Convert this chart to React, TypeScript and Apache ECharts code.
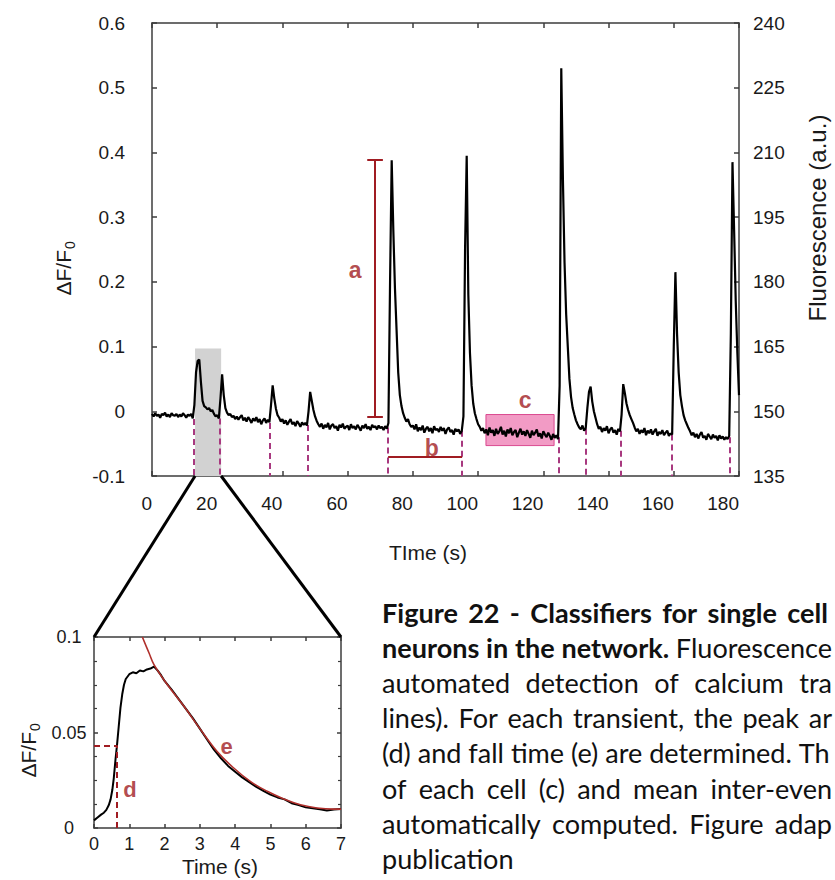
import React, { useEffect, useRef } from 'react';
import * as echarts from 'echarts';

// ---------- DATA ----------
// Main recording: [time (s), ΔF/F0 × 1000]
const mainTrace: number[][] = [
  [0,-4],[0.5,-8],[1,-3],[1.5,-7],[2,-5],[2.5,-10],[3,-4],[3.5,-6],[4,-2],[4.5,-8],[5,-5],[5.5,-9],[6,-3],[6.5,-6],[7,-7],[7.5,-4],[8,-9],[8.5,-5],[9,-8],[9.5,-3],[10,-6],[10.5,-10],[11,-5],[11.5,-7],[12,-4],[12.5,-11],
  [13,10],[13.5,60],[14,78],[14.5,80],[15,45],[15.5,16],[16,8],[16.5,6],[17,3],[17.5,5],[18,0],[18.5,2],[19,-4],[19.5,-8],[20,-6],[20.5,-11],
  [21,20],[21.5,57],[22,25],[22.5,5],[23,-2],[23.5,-6],[24,-4],[24.5,-9],[25,-7],
  [25.5,-12],[26,-8],[26.5,-13],[27,-9],[27.5,-6],[28,-14],[28.5,-10],[29,-16],[29.5,-9],[30,-13],[30.5,-18],[31,-11],[31.5,-15],[32,-9],[32.5,-17],[33,-12],[33.5,-20],[34,-14],[34.5,-11],[35,-18],[35.5,-13],[36,-17],
  [36.5,10],[37,40],[37.5,20],[38,4],[38.5,-6],[39,-10],[39.5,-16],[40,-12],
  [40.5,-19],[41,-14],[41.5,-21],[42,-16],[42.5,-12],[43,-20],[43.5,-17],[44,-23],[44.5,-15],[45,-19],[45.5,-24],[46,-17],[46.5,-21],[47,-18],[47.5,-22],
  [48,0],[48.5,30],[49,16],[49.5,2],[50,-8],[50.5,-15],[51,-20],
  [51.5,-24],[52,-19],[52.5,-27],[53,-21],[53.5,-25],[54,-18],[54.5,-28],[55,-22],[55.5,-20],[56,-26],[56.5,-23],[57,-30],[57.5,-21],[58,-25],[58.5,-19],[59,-27],[59.5,-24],[60,-22],[60.5,-29],[61,-20],[61.5,-26],[62,-23],[62.5,-28],[63,-21],[63.5,-25],[64,-30],[64.5,-22],[65,-26],[65.5,-20],[66,-27],[66.5,-24],[67,-29],[67.5,-21],[68,-25],[68.5,-23],[69,-28],[69.5,-22],[70,-26],[70.5,-24],[71,-29],[71.5,-23],[72,-27],
  [72.5,-18],[73,200],[73.5,388],[74,280],[74.5,190],[75,125],[75.5,60],[76,25],[76.5,8],[77,-3],[77.5,-10],[78,-16],[78.5,-12],[79,-20],[79.5,-24],
  [80,-22],[80.5,-28],[81,-20],[81.5,-31],[82,-25],[82.5,-29],[83,-22],[83.5,-33],[84,-27],[84.5,-24],[85,-31],[85.5,-26],[86,-34],[86.5,-23],[87,-29],[87.5,-27],[88,-32],[88.5,-24],[89,-30],[89.5,-26],[90,-35],[90.5,-28],[91,-25],[91.5,-32],[92,-29],[92.5,-36],[93,-27],[93.5,-31],[94,-28],[94.5,-35],[95,-30],
  [95.5,-8],[96,250],[96.5,395],[97,180],[97.5,90],[98,40],[98.5,12],[99,-3],[99.5,-12],[100,-20],
  [100.5,-24],[101,-30],[101.5,-26],[102,-34],[102.5,-28],[103,-37],[103.5,-25],[104,-33],[104.5,-29],[105,-38],[105.5,-27],[106,-35],[106.5,-31],[107,-24],[107.5,-36],[108,-30],[108.5,-39],[109,-28],[109.5,-34],[110,-26],[110.5,-37],[111,-32],[111.5,-29],[112,-40],[112.5,-33],[113,-27],[113.5,-36],[114,-31],[114.5,-38],[115,-29],[115.5,-35],[116,-41],[116.5,-30],[117,-37],[117.5,-33],[118,-28],[118.5,-39],[119,-34],[119.5,-42],[120,-31],[120.5,-36],[121,-40],[121.5,-33],[122,-38],[122.5,-44],[123,-35],[123.5,-41],[124,-37],[124.5,-43],
  [125,40],[125.5,530],[126,360],[126.5,230],[127,150],[127.5,100],[128,50],[128.5,22],[129,5],[129.5,-5],[130,-14],
  [130.5,-20],[131,-25],[131.5,-28],[132,-22],[132.5,-30],[133,-26],
  [133.5,5],[134,30],[134.5,38],[135,15],[135.5,0],[136,-10],
  [136.5,-20],[137,-27],[137.5,-24],[138,-32],[138.5,-26],[139,-30],[139.5,-23],[140,-34],[140.5,-28],[141,-25],[141.5,-33],[142,-29],[142.5,-36],[143,-27],[143.5,-31],
  [144,-5],[144.5,42],[145,28],[145.5,12],[146,2],[146.5,-6],[147,-12],[147.5,-18],
  [148,-25],[148.5,-31],[149,-27],[149.5,-35],[150,-29],[150.5,-33],[151,-26],[151.5,-37],[152,-30],[152.5,-34],[153,-28],[153.5,-36],[154,-31],[154.5,-27],[155,-38],[155.5,-32],[156,-35],[156.5,-29],[157,-37],[157.5,-33],[158,-30],[158.5,-38],[159,-34],[159.5,-36],
  [160,100],[160.5,215],[161,120],[161.5,60],[162,25],[162.5,8],[163,-6],[163.5,-14],[164,-20],[164.5,-26],
  [165,-31],[165.5,-37],[166,-33],[166.5,-40],[167,-35],[167.5,-42],[168,-36],[168.5,-32],[169,-41],[169.5,-38],[170,-44],[170.5,-35],[171,-39],[171.5,-43],[172,-36],[172.5,-41],[173,-38],[173.5,-45],[174,-37],[174.5,-42],[175,-39],[175.5,-44],[176,-40],[176.5,-43],[177,-38],
  [177.5,120],[178,385],[178.5,280],[179,170],[179.5,90],[180,25],
];

// Detected transient onsets (s) and the trace level at each onset (ΔF/F0)
const onsetTimes = [12.7, 20.9, 36.2, 47.8, 72.4, 95.1, 124.8, 133.1, 143.8, 159.5, 177.2];
const onsetLevels = [-0.012, -0.011, -0.018, -0.021, -0.025, -0.030, -0.040, -0.027, -0.030, -0.036, -0.040];

// Highlighted windows
const zoomWindowTime = [13.2, 21.2];
const zoomWindowLevel = [-0.1, 0.097];
const noiseWindowTime = [102.4, 123.3];
const noiseWindowLevel = [-0.053, -0.005];

// Classifier annotations
const amplitudeTime = 68.4;
const amplitudeRange = [-0.009, 0.388];
const amplitudeCapHalf = 2.4;
const intervalRange = [72.4, 95.1];
const intervalLevel = -0.071;
const mainLabelNames = ['a', 'b', 'c'];
const mainLabelTimes = [62.3, 85.8, 114.4];
const mainLabelLevels = [0.218, -0.057, 0.017];

// Inset: single transient, [time (s), ΔF/F0 × 1000]
const insetTrace: number[][] = [
  [0,4],[0.1,5.5],[0.2,7],[0.28,8],[0.35,9.5],[0.42,12],[0.47,15],[0.52,20],[0.56,26],[0.61,36],[0.65,43],[0.7,53],[0.75,63],[0.8,70],[0.85,75],[0.9,78],
  [1.0,80.5],[1.1,81.5],[1.2,81],[1.3,82.5],[1.4,82],[1.5,83],[1.6,83.5],[1.7,84.5],[1.8,82.5],[1.9,80],[2.0,77],[2.2,72.5],[2.4,67.5],[2.6,62.5],[2.8,57.5],
  [3.0,52],[3.2,46.5],[3.4,41],[3.6,36.5],[3.8,32.5],[4.0,29.5],[4.2,26.5],[4.4,24],[4.6,21.5],[4.8,19.5],[5.0,17.5],[5.2,16],[5.4,15],[5.6,13],[5.8,12],
  [6.0,10.8],[6.2,10.3],[6.4,9.8],[6.6,9.2],[6.8,9.7],[7.0,9.9],
];
// Inset: fitted decay (e), [time (s), ΔF/F0 × 1000]
const insetFit: number[][] = [
  [1.37,100],[1.56,91.6],[1.7,85.5],[2.08,75],[2.55,63.7],[3.02,51.5],[3.49,40],[3.96,31.4],[4.43,24.4],[4.91,19.2],[5.38,15.2],[5.85,12.2],[6.32,10.5],[6.79,9.9],[7,9.9],
];
const riseTime = 0.64;
const riseLevel = 0.0433;
const insetLabelNames = ['d', 'e'];
const insetLabelTimes = [1.02, 3.76];
const insetLabelLevels = [0.020, 0.0426];

// Axes
const mainTimeRange = [0, 180, 20];
const mainDFRange = [-0.1, 0.6, 0.1];
const mainFluoRange = [135, 240, 15];
const insetTimeRange = [0, 7, 1];
const insetDFRange = [0, 0.1, 0.05];

// Caption
const captionLines = [
  [{ text: 'Figure 22 - Classifiers for single cell', bold: true }],
  [{ text: 'neurons in the network.', bold: true }, { text: 'Fluorescence', bold: false }],
  [{ text: 'automated detection of calcium tra', bold: false }],
  [{ text: 'lines). For each transient, the peak ar', bold: false }],
  [{ text: '(d) and fall time (e) are determined. Th', bold: false }],
  [{ text: 'of each cell (c) and mean inter-even', bold: false }],
  [{ text: 'automatically computed. Figure adap', bold: false }],
  [{ text: 'publication', bold: false }],
];

// ---------- CHART ----------
const RED = '#a01c22';
const ONSET = '#a8387f';
const AX = '#3c3c3c';
const FONT = '"Liberation Sans", Arial, sans-serif';
const CAPFONT = 'Lato, "Open Sans", sans-serif';

function frame(extra: any) {
  return {
    type: 'value',
    axisLine: { show: true, onZero: false, lineStyle: { color: AX, width: 1.5 } },
    axisTick: { show: true, inside: true, length: 5, lineStyle: { color: AX, width: 1.5 } },
    splitLine: { show: false },
    ...extra,
  };
}

export default function App() {
  const ref = useRef<HTMLDivElement>(null);
  useEffect(() => {
    const el = ref.current;
    if (!el) return;
    const chart = echarts.init(el, undefined, { renderer: 'svg' });
    const tickLabel = { fontSize: 19, fontFamily: FONT, color: '#1a1a1a' };
    const insetLabel = { fontSize: 18, fontFamily: FONT, color: '#1a1a1a' };

    const onsetLines = onsetTimes.map((t, i) => ({ coords: [[t, onsetLevels[i]], [t, mainDFRange[0]]] }));
    const amp = [
      { coords: [[amplitudeTime, amplitudeRange[0]], [amplitudeTime, amplitudeRange[1]]] },
      { coords: [[amplitudeTime - amplitudeCapHalf, amplitudeRange[0]], [amplitudeTime + amplitudeCapHalf, amplitudeRange[0]]] },
      { coords: [[amplitudeTime - amplitudeCapHalf, amplitudeRange[1]], [amplitudeTime + amplitudeCapHalf, amplitudeRange[1]]] },
      { coords: [[intervalRange[0], intervalLevel], [intervalRange[1], intervalLevel]] },
    ];

    const option: any = {
      animation: false,
      backgroundColor: '#ffffff',
      grid: [
        { left: 152, top: 23, width: 587, height: 453 },
        { left: 94, top: 637, width: 247, height: 191 },
      ],
      xAxis: [
        frame({ gridIndex: 0, position: 'bottom', min: mainTimeRange[0], max: mainTimeRange[1], interval: mainTimeRange[2],
          axisLabel: { ...tickLabel, margin: 18, align: 'right' } }),
        frame({ gridIndex: 0, position: 'top', min: mainTimeRange[0], max: mainTimeRange[1], interval: mainTimeRange[2], axisLabel: { show: false } }),
        frame({ gridIndex: 1, position: 'bottom', min: insetTimeRange[0], max: insetTimeRange[1], interval: insetTimeRange[2],
          axisTick: { show: true, inside: true, length: 4, lineStyle: { color: AX, width: 1.5 } },
          axisLabel: { ...insetLabel, margin: 7 } }),
        frame({ gridIndex: 1, position: 'top', min: insetTimeRange[0], max: insetTimeRange[1], interval: insetTimeRange[2],
          axisTick: { show: true, inside: true, length: 4, lineStyle: { color: AX, width: 1.5 } }, axisLabel: { show: false } }),
      ],
      yAxis: [
        frame({ gridIndex: 0, position: 'left', min: mainDFRange[0], max: mainDFRange[1], interval: mainDFRange[2],
          axisLabel: { ...tickLabel, margin: 27, formatter: (v: number) => String(Math.round(v * 10) / 10 || 0) } }),
        frame({ gridIndex: 0, position: 'right', min: mainFluoRange[0], max: mainFluoRange[1], interval: mainFluoRange[2],
          axisLabel: { ...tickLabel, margin: 14 } }),
        frame({ gridIndex: 1, position: 'left', min: insetDFRange[0], max: insetDFRange[1], interval: insetDFRange[2],
          axisTick: { show: true, inside: true, length: 4, lineStyle: { color: AX, width: 1.5 } },
          minorTick: { show: true, splitNumber: 4, length: 3, lineStyle: { color: AX, width: 1.2 } },
          axisLabel: { ...insetLabel, margin: 25, align: 'center', formatter: (v: number) => String(Math.round(v * 100) / 100) } }),
        frame({ gridIndex: 1, position: 'right', min: insetDFRange[0], max: insetDFRange[1], interval: insetDFRange[2],
          axisTick: { show: true, inside: true, length: 4, lineStyle: { color: AX, width: 1.5 } },
          minorTick: { show: true, splitNumber: 4, length: 3, lineStyle: { color: AX, width: 1.2 } },
          axisLabel: { show: false } }),
      ],
      series: [
        {
          type: 'line', xAxisIndex: 0, yAxisIndex: 0, z: 1, silent: true, symbol: 'none',
          data: [[zoomWindowTime[0], zoomWindowLevel[0]]], lineStyle: { opacity: 0 },
          markArea: { silent: true, itemStyle: { color: '#d2d2d2' },
            data: [[{ coord: [zoomWindowTime[0], zoomWindowLevel[0]] }, { coord: [zoomWindowTime[1], zoomWindowLevel[1]] }]] },
        },
        {
          type: 'lines', coordinateSystem: 'cartesian2d', xAxisIndex: 0, yAxisIndex: 0, z: 2, silent: true,
          data: onsetLines, lineStyle: { color: ONSET, width: 2, type: [6, 4], opacity: 1 },
        },
        {
          type: 'line', xAxisIndex: 0, yAxisIndex: 0, z: 3, symbol: 'none', silent: true,
          data: mainTrace.map(([t, v]) => [t, v / 1000]),
          lineStyle: { color: '#000', width: 2.2 },
        },
        {
          type: 'line', xAxisIndex: 0, yAxisIndex: 0, z: 4, silent: true, symbol: 'none',
          data: [[noiseWindowTime[0], noiseWindowLevel[0]]], lineStyle: { opacity: 0 },
          markArea: { silent: true, itemStyle: { color: 'rgba(232,72,150,0.55)', borderColor: 'rgba(215,60,135,0.9)', borderWidth: 1 },
            data: [[{ coord: [noiseWindowTime[0], noiseWindowLevel[0]] }, { coord: [noiseWindowTime[1], noiseWindowLevel[1]] }]] },
        },
        {
          type: 'lines', coordinateSystem: 'cartesian2d', xAxisIndex: 0, yAxisIndex: 0, z: 5, silent: true,
          data: amp, lineStyle: { color: RED, width: 2, opacity: 1 },
        },
        {
          type: 'scatter', xAxisIndex: 0, yAxisIndex: 0, z: 6, silent: true, symbolSize: 1,
          itemStyle: { color: 'rgba(0,0,0,0)' },
          data: mainLabelNames.map((n, i) => ({ name: n, value: [mainLabelTimes[i], mainLabelLevels[i]] })),
          label: { show: true, position: 'inside', formatter: '{b}', color: RED, fontSize: 23, fontWeight: 'bold', fontFamily: FONT },
        },
        {
          type: 'line', xAxisIndex: 2, yAxisIndex: 2, z: 3, symbol: 'none', silent: true,
          data: insetTrace.map(([t, v]) => [t, v / 1000]),
          lineStyle: { color: '#000', width: 2 },
        },
        {
          type: 'line', xAxisIndex: 2, yAxisIndex: 2, z: 4, symbol: 'none', silent: true, smooth: 0.4,
          data: insetFit.map(([t, v]) => [t, v / 1000]),
          lineStyle: { color: '#b0302c', width: 1.6 },
        },
        {
          type: 'lines', coordinateSystem: 'cartesian2d', xAxisIndex: 2, yAxisIndex: 2, z: 5, silent: true,
          data: [
            { coords: [[insetTimeRange[0], riseLevel], [riseTime, riseLevel]] },
            { coords: [[riseTime, insetDFRange[0]], [riseTime, riseLevel]] },
          ],
          lineStyle: { color: RED, width: 2, type: [6, 4], opacity: 1 },
        },
        {
          type: 'scatter', xAxisIndex: 2, yAxisIndex: 2, z: 6, silent: true, symbolSize: 1,
          itemStyle: { color: 'rgba(0,0,0,0)' },
          data: insetLabelNames.map((n, i) => ({ name: n, value: [insetLabelTimes[i], insetLabelLevels[i]] })),
          label: { show: true, position: 'inside', formatter: '{b}', color: RED, fontSize: 22, fontWeight: 'bold', fontFamily: FONT },
        },
      ],
    };
    chart.setOption(option);

    // connecting lines from the grey window to the inset corners
    const px = (g: number, p: number[]) => chart.convertToPixel({ gridIndex: g } as any, p) as number[];
    const a1 = px(0, [zoomWindowTime[0], zoomWindowLevel[0]]);
    const a2 = px(0, [zoomWindowTime[1], zoomWindowLevel[0]]);
    const b1 = px(1, [insetTimeRange[0], insetDFRange[1]]);
    const b2 = px(1, [insetTimeRange[1], insetDFRange[1]]);

    const graphics: any[] = [
      { type: 'line', z: 10, shape: { x1: a1[0], y1: a1[1], x2: b1[0], y2: b1[1] }, style: { stroke: '#000', lineWidth: 3 } },
      { type: 'line', z: 10, shape: { x1: a2[0], y1: a2[1], x2: b2[0], y2: b2[1] }, style: { stroke: '#000', lineWidth: 3 } },
      { type: 'text', x: 428, y: 552, style: { text: 'TIme (s)', fontSize: 21, fontFamily: FONT, fill: '#1a1a1a', align: 'center', verticalAlign: 'middle' } },
      { type: 'text', x: 220, y: 866, style: { text: 'Time (s)', fontSize: 21, fontFamily: FONT, fill: '#1a1a1a', align: 'center', verticalAlign: 'middle' } },
      { type: 'text', x: 817, y: 218, rotation: Math.PI / 2, style: { text: 'Fluorescence (a.u.)', fontSize: 24, fontFamily: FONT, fill: '#1a1a1a', align: 'center', verticalAlign: 'middle' } },
    ];
    const dfLabel = (x: number, y: number) => ({
      type: 'group', x, y, rotation: Math.PI / 2,
      children: [
        { type: 'text', x: 0, y: 0, style: { text: 'ΔF/F', fontSize: 21, fontFamily: FONT, fill: '#1a1a1a', align: 'right', verticalAlign: 'middle' } },
        { type: 'text', x: 1, y: 7, style: { text: '0', fontSize: 14, fontFamily: FONT, fill: '#1a1a1a', align: 'left', verticalAlign: 'middle' } },
      ],
    });
    graphics.push(dfLabel(63, 250));
    graphics.push(dfLabel(28, 732));

    // caption, justified like the source
    const ctx = document.createElement('canvas').getContext('2d') as CanvasRenderingContext2D;
    const measure = (t: string, bold: boolean, size: number) => {
      ctx.font = `${bold ? 'bold ' : ''}${size}px Lato`;
      return ctx.measureText(t).width;
    };
    const ref5 = captionLines[4][0].text;
    let size = (100 * 448) / measure(ref5, false, 100);
    if (!isFinite(size) || size < 16 || size > 32) size = 25;
    const left = 382;
    const rights = [828, 832, 832, 832, null, 832, 832, null];
    captionLines.forEach((line, li) => {
      const words: { w: string; b: boolean }[] = [];
      line.forEach((seg) => seg.text.split(' ').forEach((w) => words.push({ w, b: !!seg.bold })));
      const widths = words.map((wd) => measure(wd.w, wd.b, size));
      const space = measure(' ', false, size);
      const total = widths.reduce((s, v) => s + v, 0);
      const right = rights[li];
      let gap = space;
      if (right && words.length > 1) gap = Math.max(space * 0.6, (right - left - total) / (words.length - 1));
      let x = left;
      const y = 612 + li * 35.2;
      words.forEach((wd, i) => {
        graphics.push({ type: 'text', x, y, style: { text: wd.w, fontSize: size, fontFamily: CAPFONT, fontWeight: wd.b ? 'bold' : 'normal', fill: '#111', align: 'left', verticalAlign: 'middle' } });
        x += widths[i] + gap;
      });
    });

    chart.setOption({ graphic: graphics });
    return () => chart.dispose();
  }, []);
  return <div ref={ref} style={{ position: 'absolute', left: 0, top: 0, width: 835, height: 880, background: '#fff' }} />;
}
